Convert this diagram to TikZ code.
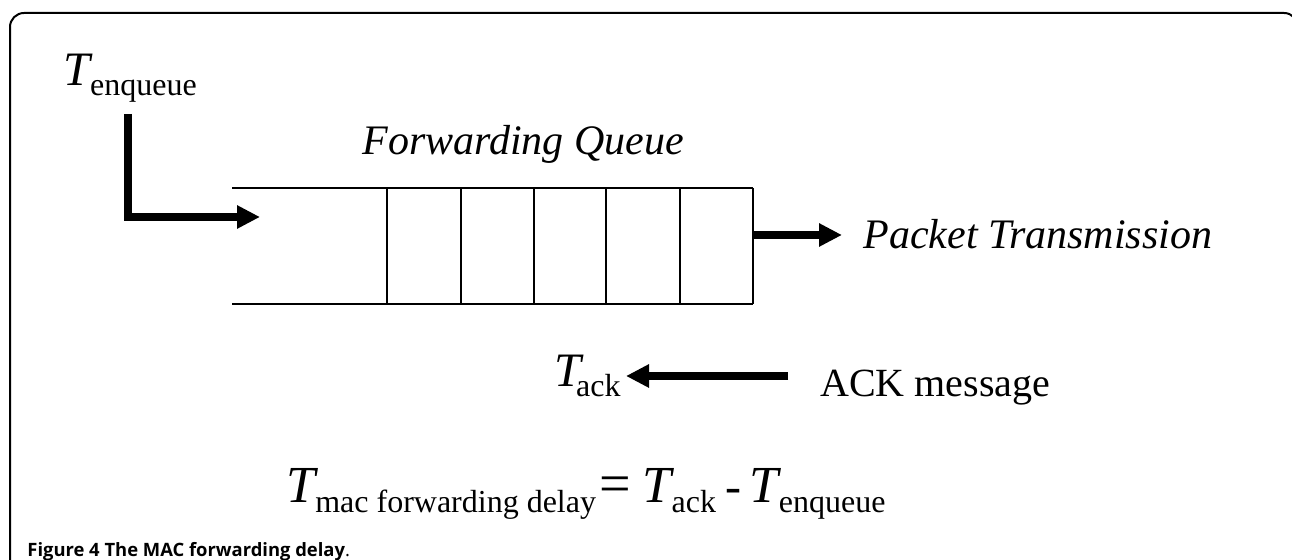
\documentclass[tikz,border=0pt]{standalone}
\usepackage{fontspec}
\setmainfont{Liberation Serif}
\newfontfamily\capfont{Open Sans}
\usetikzlibrary{arrows.meta}
\newcommand\Tsub[3][24]{{\fontsize{#1}{#1}\selectfont\itshape T}\kern#2\raisebox{-5pt}{\fontsize{16}{16}\selectfont #3}}
\newcommand\bigop[2]{{\fontsize{#1}{#1}\selectfont #2}}

\begin{document}
\begin{tikzpicture}[x=0.5pt,y=-0.5pt,
    txt/.style = {inner sep=0pt, anchor=base west,
                font=\fontsize{20}{20}\selectfont},
    lbl/.style = {txt, font=\fontsize{21}{21}\selectfont\itshape},
    fat/.style = {line width=4pt, -{Triangle[length=11.5pt,width=11pt]}},
    slot/.style = {line width=1.2pt}  % queue lines
                    ]
    \useasboundingbox (0,0) rectangle (1292,560);
    \clip (0,0) rectangle (1292,560);
    \def\ql{232}
    \def\qr{753}
    \def\qtop{188}
    \def\qbot{304}
    \draw[line width=1pt,rounded corners=7pt] (10,590) -- (10,13) -- (1298,13) -- (1298,590);
    \draw[slot] (\ql,\qtop) -- (\qr,\qtop);
    \draw[slot] (\ql,\qbot) -- (\qr,\qbot);
    \foreach \x in {387,461,534,606,680,753}
        \draw[slot] (\x,\qtop) -- (\x,\qbot);
    \node[txt] at (63,86) (tenq) {\Tsub{0pt}{enqueue}};
    \node[lbl] at (362,155) (fq) {Forwarding Queue};
    \node[lbl] at (863,249) (pt) {Packet Transmission};
    \node[txt] at (554,387) (tack) {\Tsub{-2.5pt}{ack}};
    \node[txt] at (820,397) (ackmsg) {ACK message};
    \node[txt] at (286,503) (delay) {\Tsub[26]{0pt}{mac forwarding delay}\hspace{1.5pt}\bigop{28}{=}\hspace{6pt}\Tsub[26]{0pt}{ack}\hspace{5pt}\bigop{24}{-}\hspace{4pt}\Tsub[26]{0pt}{enqueue}};
    \node[inner sep=0pt, anchor=base west, font=\capfont\fontsize{9.2}{9.2}\selectfont]
        at (27,557) (cap) {\textbf{Figure 4 The MAC forwarding delay}.};
    \coordinate (intop) at (128,114);
    \coordinate (intip) at (260,217);
    \coordinate (outfoot) at (\qr,235);
    \coordinate (outtip) at (842,235);
    \coordinate (acktail) at (788,376);
    \coordinate (acktip) at (626,376);
    \draw[fat] (intop) |- (intip);
    \draw[fat] (outfoot) -- (outtip);
    \draw[fat] (acktail) -- (acktip);
\end{tikzpicture}
\end{document}
